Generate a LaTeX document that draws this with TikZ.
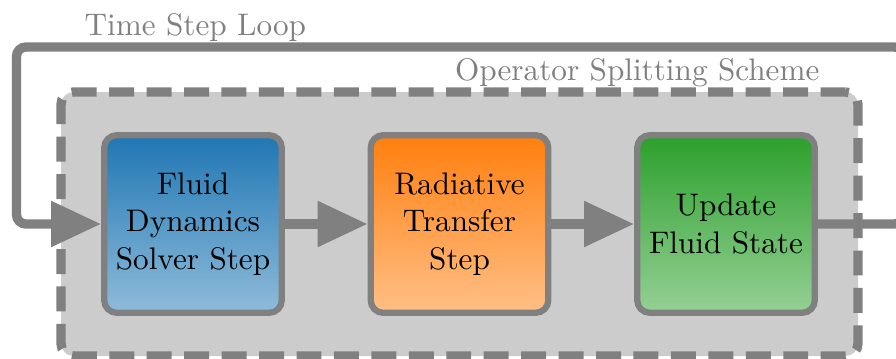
\documentclass[tikz,border=0pt]{standalone}
\usetikzlibrary{arrows.meta,fit,backgrounds}
\definecolor{tabblue}{RGB}{31,119,180}
\definecolor{taborange}{RGB}{255,127,14}
\definecolor{tabgreen}{RGB}{44,160,44}
\begin{document}
\begin{tikzpicture}[x=0.3205pt,y=-0.3205pt,
  stepbox/.style={draw=gray, line width=2pt, rounded corners=4pt,
    minimum width=2cm, minimum height=2cm, align=center, text=black},
  schemebox/.style={draw=gray, fill=gray!40, line width=3pt,
    dash pattern=on 8pt off 4pt, rounded corners=4pt, inner sep=12.85pt},
  flow/.style={draw=gray, line width=3pt, -{Triangle[length=16pt,width=14pt]}},
  looppath/.style={flow, rounded corners=3pt},
  caption/.style={text=gray, inner sep=0pt}]
\useasboundingbox (0,0) rectangle (896,358);
% process steps
\node[stepbox, top color=tabblue, bottom color=tabblue!50] (fluid) at (193,224) {Fluid\\Dynamics\\Solver Step};
\node[stepbox, top color=taborange, bottom color=taborange!50] (rad) at (459.5,224) {Radiative\\Transfer\\Step};
\node[stepbox, top color=tabgreen, bottom color=tabgreen!50] (upd) at (726,224) {Update\\Fluid State};
% operator splitting frame behind the steps
\begin{scope}[on background layer]
\node[schemebox, fit=(fluid)(rad)(upd)] (scheme) {};
\end{scope}
% labels
\node[caption, anchor=base west] (looplabel) at (84,35) {Time Step Loop};
\node[caption, anchor=base east] (schemelabel) at (820,80) {Operator Splitting Scheme};
% connectors
\draw[flow] (fluid) -- (rad);
\draw[flow] (rad) -- (upd);
\coordinate (loopR) at (903.5,224);
\coordinate (loopL) at (16.5,224);
\coordinate (looptop) at (0,47);
\draw[looppath] (upd.east) -- (loopR) -- (loopR |- looptop) -- (loopL |- looptop) -- (loopL) -- (fluid.west);
\end{tikzpicture}
\end{document}
